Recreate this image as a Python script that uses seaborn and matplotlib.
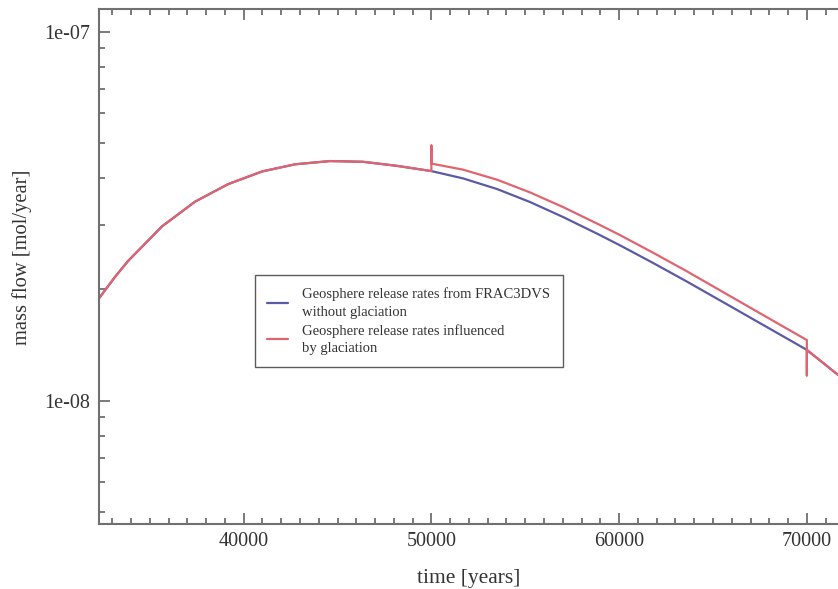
import matplotlib
matplotlib.use("Agg")
import matplotlib.pyplot as plt
import matplotlib.ticker as mticker
import seaborn as sns
import pandas as pd

# ---- data ----
years_without = [32280, 33150, 33840, 35650, 37410, 39170, 40980, 42740, 44600, 46360, 48170, 50000,
                 51690, 53500, 55260, 57020, 58830, 60050, 61810, 63620, 65380, 67140, 68950, 70000, 71670]
flow_without = [1.888e-8, 2.164e-8, 2.388e-8, 2.965e-8, 3.459e-8, 3.859e-8, 4.177e-8, 4.368e-8, 4.457e-8,
                4.437e-8, 4.326e-8, 4.187e-8,
                4.000e-8, 3.743e-8, 3.451e-8, 3.143e-8, 2.833e-8, 2.634e-8, 2.360e-8, 2.100e-8, 1.868e-8,
                1.661e-8, 1.472e-8, 1.372e-8, 1.173e-8]

years_with = [32280, 33150, 33840, 35650, 37410, 39170, 40980, 42740, 44600, 46360, 48170, 50000,
              50000, 50000,
              51690, 53500, 55260, 57020, 58830, 60050, 61810, 63620, 65380, 67140, 68950, 70000,
              70000, 70000, 71670]
flow_with = [1.888e-8, 2.164e-8, 2.388e-8, 2.965e-8, 3.459e-8, 3.859e-8, 4.177e-8, 4.368e-8, 4.457e-8,
             4.437e-8, 4.326e-8, 4.187e-8,
             4.91e-8, 4.388e-8,
             4.224e-8, 3.968e-8, 3.665e-8, 3.344e-8, 3.017e-8, 2.808e-8, 2.516e-8, 2.239e-8, 1.989e-8,
             1.767e-8, 1.565e-8, 1.459e-8,
             1.17e-8, 1.372e-8, 1.173e-8]

label_without = "Geosphere release rates from FRAC3DVS\nwithout glaciation"
label_with = "Geosphere release rates influenced\nby glaciation"
x_ticks = [40000, 50000, 60000, 70000]
y_ticks = [1e-8, 1e-7]

df = pd.concat([
    pd.DataFrame({"year": years_without, "flow": flow_without, "series": label_without}),
    pd.DataFrame({"year": years_with, "flow": flow_with, "series": label_with}),
], ignore_index=True)

sns.set_style("ticks")
plt.rcParams["font.family"] = ["Liberation Serif", "DejaVu Serif"]

axis_grey = "#707070"
text_col = "#333333"
fig = plt.figure(figsize=(8.38, 5.89), dpi=100)
ax = fig.add_axes([0.1178, 0.1104, 0.8822, 0.8738])

sns.lineplot(data=df, x="year", y="flow", hue="series", estimator=None, sort=False,
             palette={label_without: "#5a5aa6", label_with: "#e0646e"}, linewidth=1.6, ax=ax)

ax.set_yscale("log")
ax.set_xlim(32280, 71660)
ax.set_ylim(4.63e-9, 1.149e-7)

ax.set_xticks(x_ticks)
ax.xaxis.set_major_formatter(mticker.FuncFormatter(lambda v, p: f"{int(v)}"))
ax.xaxis.set_minor_locator(mticker.MultipleLocator(1000))
ax.set_yticks(y_ticks)
ax.yaxis.set_major_formatter(mticker.FuncFormatter(lambda v, p: f"{v:.0e}"))
ax.yaxis.set_minor_locator(mticker.LogLocator(base=10, subs=range(2, 10)))
ax.yaxis.set_minor_formatter(mticker.NullFormatter())

ax.tick_params(which="both", direction="in", top=True, right=False, color=axis_grey, width=1.3)
ax.tick_params(which="major", length=8, labelsize=14.5, labelcolor=text_col, pad=6)
ax.tick_params(which="minor", length=4.5)

for s in ["left", "bottom", "top"]:
    ax.spines[s].set_color(axis_grey)
    ax.spines[s].set_linewidth(1.5)
ax.spines["right"].set_visible(False)

ax.set_xlabel("time [years]", fontsize=15.5, color=text_col, labelpad=13)
ax.set_ylabel("mass flow [mol/year]", fontsize=14.8, color=text_col)
ax.yaxis.set_label_coords(-0.090, 0.518)

leg = ax.legend(loc="upper left", bbox_to_anchor=(0.3043, 0.5331), bbox_transform=fig.transFigure,
                fontsize=10.5, frameon=True, fancybox=False, handlelength=1.4, handletextpad=1.0,
                borderpad=0.85, labelspacing=0.35, borderaxespad=0)
leg.get_frame().set_edgecolor("#333333")
leg.get_frame().set_linewidth(1.0)
for t in leg.get_texts():
    t.set_color(text_col)
    t.set_linespacing(1.45)

fig.savefig("out.png", dpi=100)
